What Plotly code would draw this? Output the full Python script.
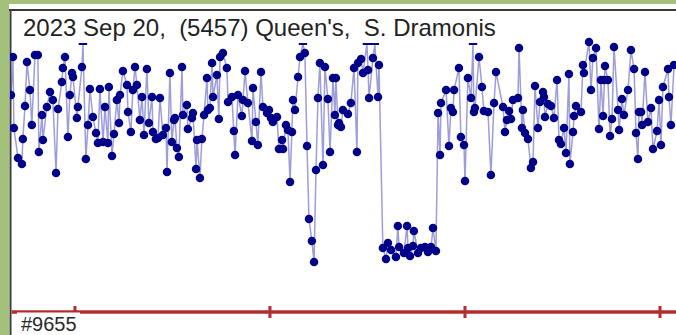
import plotly.graph_objects as go

# Light curve of (5457) Queen's, 2023 Sep 20 (UT hours vs. net counts)
ut_hours = [
    2.672, 2.682, 2.687, 2.708, 2.728, 2.733, 2.744, 2.754, 2.769, 2.779,
    2.795, 2.810, 2.815, 2.831, 2.836, 2.856, 2.872, 2.887, 2.903, 2.913,
    2.933, 2.938, 2.949, 2.964, 2.974, 2.985, 2.990, 3.010, 3.015, 3.036,
    3.041, 3.056, 3.067, 3.077, 3.092, 3.108, 3.118, 3.128, 3.144, 3.154,
    3.169, 3.174, 3.190, 3.200, 3.215, 3.226, 3.231, 3.246, 3.267, 3.272,
    3.287, 3.297, 3.308, 3.318, 3.333, 3.344, 3.354, 3.369, 3.379, 3.395,
    3.400, 3.415, 3.426, 3.436, 3.451, 3.467, 3.472, 3.487, 3.497, 3.508,
    3.513, 3.523, 3.533, 3.549, 3.554, 3.574, 3.579, 3.600, 3.605, 3.621,
    3.626, 3.641, 3.651, 3.662, 3.677, 3.682, 3.692, 3.703, 3.708, 3.728,
    3.738, 3.744, 3.759, 3.779, 3.785, 3.805, 3.815, 3.821, 3.836, 3.856,
    3.862, 3.872, 3.887, 3.908, 3.913, 3.928, 3.938, 3.954, 3.964, 3.985,
    3.995, 4.005, 4.015, 4.036, 4.046, 4.062, 4.067, 4.082, 4.092, 4.103,
    4.113, 4.118, 4.128, 4.144, 4.154, 4.169, 4.179, 4.190, 4.200, 4.215,
    4.226, 4.236, 4.246, 4.256, 4.272, 4.282, 4.297, 4.308, 4.323, 4.333,
    4.338, 4.349, 4.354, 4.364, 4.374, 4.400, 4.415, 4.431, 4.446, 4.451,
    4.467, 4.477, 4.497, 4.503, 4.508, 4.528, 4.538, 4.554, 4.559, 4.579,
    4.595, 4.605, 4.621, 4.646, 4.656, 4.662, 4.687, 4.703, 4.708, 4.718,
    4.733, 4.738, 4.759, 4.774, 4.795, 4.810, 4.826, 4.836, 4.851, 4.862,
    4.872, 4.877, 4.903, 4.918, 4.928, 4.938, 4.944, 4.969, 4.979, 4.995,
    5.000, 5.015, 5.031, 5.041, 5.046, 5.051, 5.072, 5.087, 5.097, 5.118,
    5.133, 5.149, 5.159, 5.195, 5.205, 5.215, 5.226, 5.236, 5.246, 5.272,
    5.277, 5.292, 5.297, 5.308, 5.323, 5.338, 5.349, 5.359, 5.374, 5.385,
    5.400, 5.405, 5.410, 5.426, 5.441, 5.456, 5.472, 5.482, 5.492, 5.508,
    5.518, 5.533, 5.538, 5.554, 5.559, 5.569, 5.595, 5.605, 5.610, 5.636,
    5.646, 5.656, 5.672, 5.687, 5.697, 5.708, 5.713, 5.718, 5.733, 5.744,
    5.754, 5.764, 5.785, 5.790, 5.805, 5.815, 5.836, 5.851, 5.867, 5.877,
    5.887, 5.892, 5.903, 5.908, 5.923, 5.938, 5.954, 5.964, 5.985, 5.995,
    6.005, 6.015, 6.041, 6.046, 6.056, 6.072,
]

net_counts = [
    215, 253, 182, 152, 146, 171, 204, 248, 220, 185,
    255, 255, 158, 195, 170, 203, 218, 210, 137, 201,
    228, 242, 253, 173, 215, 237, 233, 192, 203, 243,
    300, 151, 185, 221, 193, 177, 167, 221, 168, 203,
    167, 223, 154, 176, 210, 187, 215, 239, 225, 198,
    178, 220, 243, 225, 190, 213, 175, 241, 187, 213,
    178, 171, 172, 212, 175, 182, 138, 237, 168, 190,
    192, 162, 153, 243, 195, 205, 181, 192, 197, 141,
    170, 132, 171, 195, 232, 200, 202, 247, 213, 235,
    191, 253, 257, 242, 208, 213, 179, 155, 215, 194,
    210, 239, 207, 169, 222, 188, 165, 238, 203, 197,
    200, 192, 188, 193, 161, 170, 161, 185, 180, 128,
    178, 210, 200, 233, 253, 300, 257, 164, 91, 69,
    48, 140, 212, 247, 145, 243, 211, 158, 232, 195,
    232, 185, 187, 183, 200, 196, 207, 242, 158, 247,
    251, 237, 300, 240, 212, 252, 300, 213, 245, 62,
    51, 67, 60, 53, 84, 63, 57, 84, 62, 54,
    64, 79, 57, 62, 63, 58, 63, 82, 59, 197,
    155, 207, 220, 164, 202, 198, 220, 242, 173, 165,
    129, 232, 212, 300, 198, 202, 253, 223, 199, 198,
    135, 207, 238, 203, 178, 190, 199, 191, 210, 212,
    262, 182, 200, 177, 171, 142, 148, 224, 182, 208,
    218, 213, 193, 206, 204, 192, 230, 170, 166, 182,
    157, 236, 146, 178, 194, 204, 198, 245, 237, 268,
    220, 252, 262, 181, 230, 194, 230, 244, 230, 174,
    191, 263, 200, 180, 211, 195, 220, 260, 241, 177,
    151, 198, 198, 185, 238, 188, 202, 161, 179, 210,
    165, 223, 241, 213, 185, 245,
]

tick_hours = [3, 4, 5, 6]
title_text = "2023 Sep 20,&nbsp;&nbsp;(5457) Queen's,&nbsp;&nbsp;S. Dramonis"
frame_label = "#9655"

# display limits
Y_TOP = 274          # top of the plotting window (counts)
CAP = 266            # where off-scale points are marked
X_LEFT, X_RIGHT = 2.667, 6.082

W, H = 676, 335
def px(x):
    return x / W
def py(y):
    return 1 - y / H

plot_y, symbols, edge_w, sizes = [], [], [], []
for v in net_counts:
    if v > Y_TOP - 4:
        plot_y.append(CAP)
        symbols.append("line-ew")
        edge_w.append(2)
        sizes.append(6)
    else:
        plot_y.append(v)
        symbols.append("circle")
        edge_w.append(0)
        sizes.append(8.5)

fig = go.Figure()
fig.add_trace(go.Scatter(
    x=ut_hours, y=plot_y, mode="lines+markers",
    line=dict(color="rgba(60,60,180,0.5)", width=1.5),
    marker=dict(color="#000088", size=sizes, symbol=symbols, opacity=1,
                line=dict(color="#000088", width=edge_w)),
    hoverinfo="skip", showlegend=False,
))

frame_grey = "#3a3a3a"
red = "#b32d2d"
shapes = [
    # white panel and its dark border
    dict(type="rect", xref="paper", yref="paper", x0=px(9), x1=px(690), y0=py(345), y1=py(4),
         fillcolor="white", line=dict(width=0), layer="below"),
    dict(type="line", xref="paper", yref="paper", x0=px(9), x1=px(690), y0=py(10), y1=py(10),
         line=dict(color=frame_grey, width=2), layer="below"),
    dict(type="line", xref="paper", yref="paper", x0=px(10.5), x1=px(10.5), y0=py(9), y1=py(345),
         line=dict(color=frame_grey, width=2), layer="below"),
    # time axis
    dict(type="line", xref="paper", yref="paper", x0=px(11.5), x1=px(690), y0=py(312), y1=py(312),
         line=dict(color=red, width=3.5), layer="below"),
]
for t in tick_hours:
    shapes.append(dict(type="line", xref="x", yref="paper", x0=t, x1=t, y0=py(306), y1=py(318),
                       line=dict(color=red, width=3), layer="below"))
# backing box for the frame label
shapes.append(dict(type="rect", xref="paper", yref="paper", x0=px(17), x1=px(80), y0=py(345), y1=py(312.5),
                   fillcolor="white", line=dict(width=0), layer="below"))

annotations = [
    dict(text=title_text, xref="paper", yref="paper", x=px(21), y=py(28),
         xanchor="left", yanchor="middle", showarrow=False,
         font=dict(family="Liberation Sans, Arial", size=24, color="#222222")),
    dict(text=frame_label, xref="paper", yref="paper", x=px(19), y=py(324),
         xanchor="left", yanchor="middle", showarrow=False,
         font=dict(family="Liberation Sans, Arial", size=20, color="#2a2a2a")),
]

fig.update_layout(
    width=W, height=H, margin=dict(l=0, r=0, t=0, b=0),
    paper_bgcolor="#a4c17b", plot_bgcolor="rgba(0,0,0,0)",
    shapes=shapes, annotations=annotations,
    xaxis=dict(domain=[px(10), 1], range=[X_LEFT, X_RIGHT], visible=False, fixedrange=True),
    yaxis=dict(domain=[py(310), py(36)], range=[0, Y_TOP], visible=False, fixedrange=True),
)

fig.write_html("out.html")
